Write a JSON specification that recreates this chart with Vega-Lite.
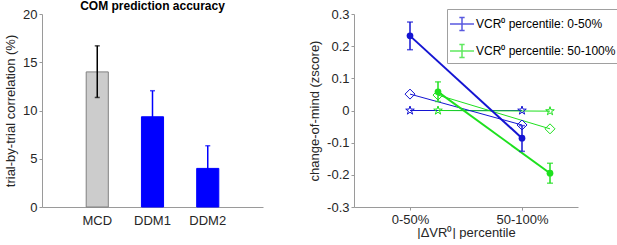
{
  "$schema": "https://vega.github.io/schema/vega-lite/v6.json",
  "padding": {"left": 4, "top": 0, "right": 0, "bottom": 0},
  "spacing": 45,
  "resolve": {"scale": {"color": "independent", "fill": "independent", "stroke": "independent"}, "legend": {"color": "independent"}},
  "config": {
    "font": "Liberation Sans",
    "view": {"stroke": null},
    "axis": {
      "domainColor": "#9a9a9a", "tickColor": "#9a9a9a", "labelColor": "#262626", "titleColor": "#262626",
      "labelFontSize": 13, "titleFontSize": 13, "titleFontWeight": "normal", "grid": false,
      "labelFont": "Liberation Sans", "titleFont": "Liberation Sans", "tickSize": 3, "labelOverlap": false
    }
  },
  "datasets": {
    "bars": [
      {"model": "MCD", "value": 14.0, "lo": 11.35, "hi": 16.7},
      {"model": "DDM1", "value": 9.35, "lo": 6.7, "hi": 12.05},
      {"model": "DDM2", "value": 4.0, "lo": 1.65, "hi": 6.35}
    ],
    "com": [
      {"g": "0-50%", "x": 1, "kind": "data", "y": 0.232, "lo": 0.189, "hi": 0.275},
      {"g": "0-50%", "x": 2, "kind": "data", "y": -0.086, "lo": -0.127, "hi": -0.047},
      {"g": "50-100%", "x": 1.25, "kind": "data", "y": 0.058, "lo": 0.028, "hi": 0.089},
      {"g": "50-100%", "x": 2.25, "kind": "data", "y": -0.195, "lo": -0.226, "hi": -0.164},
      {"g": "0-50%", "x": 1, "kind": "diamond", "y": 0.051},
      {"g": "0-50%", "x": 2, "kind": "diamond", "y": -0.045},
      {"g": "50-100%", "x": 1.25, "kind": "diamond", "y": 0.048},
      {"g": "50-100%", "x": 2.25, "kind": "diamond", "y": -0.057},
      {"g": "0-50%", "x": 1, "kind": "star", "y": 0.0},
      {"g": "0-50%", "x": 2, "kind": "star", "y": 0.0},
      {"g": "50-100%", "x": 1.25, "kind": "star", "y": 0.0},
      {"g": "50-100%", "x": 2.25, "kind": "star", "y": -0.002}
    ]
  },
  "hconcat": [
    {
      "width": 221, "height": 193,
      "title": {"text": "COM prediction accuracy", "fontSize": 12, "fontWeight": "bold", "offset": -5, "color": "#000000"},
      "data": {"name": "bars"},
      "encoding": {
        "x": {"field": "model", "type": "nominal", "sort": null,
              "scale": {"paddingInner": 0.6, "paddingOuter": 0.8},
              "axis": {"title": null, "labelAngle": 0, "ticks": false, "labelPadding": 7}}
      },
      "layer": [
        {
          "mark": {"type": "bar", "strokeWidth": 1},
          "encoding": {
            "y": {"field": "value", "type": "quantitative", "scale": {"domain": [0, 20]},
                  "axis": {"title": "trial-by-trial correlation (%)", "values": [0, 5, 10, 15, 20], "titlePadding": 5}},
            "fill": {"field": "model", "type": "nominal", "scale": {"domain": ["MCD", "DDM1", "DDM2"], "range": ["#cccccc", "#0000ff", "#0000ff"]}, "legend": null},
            "stroke": {"field": "model", "type": "nominal", "scale": {"domain": ["MCD", "DDM1", "DDM2"], "range": ["#808080", "#0000ff", "#0000ff"]}, "legend": null}
          }
        },
        {
          "mark": {"type": "rule", "strokeWidth": 1.5},
          "encoding": {
            "y": {"field": "lo", "type": "quantitative"},
            "y2": {"field": "hi"},
            "color": {"field": "model", "type": "nominal", "scale": {"domain": ["MCD", "DDM1", "DDM2"], "range": ["#000000", "#0000ff", "#0000ff"]}, "legend": null}
          }
        },
        {
          "mark": {"type": "tick", "size": 5, "thickness": 1.5, "orient": "horizontal"},
          "encoding": {
            "y": {"field": "hi", "type": "quantitative"},
            "color": {"field": "model", "type": "nominal", "legend": null}
          }
        },
        {
          "mark": {"type": "tick", "size": 5, "thickness": 1.5, "orient": "horizontal"},
          "encoding": {
            "y": {"field": "lo", "type": "quantitative"},
            "color": {"field": "model", "type": "nominal", "legend": null}
          }
        }
      ]
    },
    {
      "width": 224, "height": 193,
      "data": {"name": "com"},
      "encoding": {
        "x": {"field": "x", "type": "quantitative", "scale": {"domain": [0.5, 2.5], "nice": false},
              "axis": {"title": "|ΔVR⁰| percentile", "values": [1, 2], "labelExpr": "datum.value == 1 ? '0-50%' : '50-100%'", "titlePadding": 0, "labelPadding": 3}},
        "y": {"field": "y", "type": "quantitative", "scale": {"domain": [-0.3, 0.3], "nice": false},
              "axis": {"title": "change-of-mind (zscore)", "values": [-0.3, -0.2, -0.1, 0, 0.1, 0.2, 0.3],
                       "labelOverlap": false, "labelBound": false,
                       "labelExpr": "datum.value == 0 ? '0' : (datum.value < 0 ? '-' : '') + format(abs(datum.value), '.1f')",
                       "titlePadding": 5}},
        "color": {"field": "g", "type": "nominal",
                  "scale": {"domain": ["0-50%", "50-100%"], "range": ["#1414d2", "#1ee01e"]},
                  "legend": {"title": null, "orient": "none", "legendX": 93, "legendY": -5,
                             "symbolType": "M-1,0H1M0,-0.55V0.55M-0.22,-0.55H0.22M-0.22,0.55H0.22",
                             "symbolSize": 576, "symbolStrokeWidth": 1.5,
                             "labelFontSize": 12, "labelColor": "#000000",
                             "strokeColor": "#a0a0a0", "fillColor": "white",
                             "padding": 2, "rowPadding": 4, "labelOffset": 1,
                             "labelExpr": "'VCR⁰ percentile: ' + datum.label"}}
      },
      "layer": [
        {
          "transform": [{"filter": "datum.kind == 'star'"}],
          "mark": {"type": "line", "strokeWidth": 1}
        },
        {
          "transform": [{"filter": "datum.kind == 'diamond'"}],
          "mark": {"type": "line", "strokeWidth": 1}
        },
        {
          "transform": [{"filter": "datum.kind == 'data'"}],
          "mark": {"type": "line", "strokeWidth": 2}
        },
        {
          "transform": [{"filter": "datum.kind == 'data'"}],
          "mark": {"type": "rule", "strokeWidth": 1.5},
          "encoding": {"y": {"field": "lo", "type": "quantitative"}, "y2": {"field": "hi"}}
        },
        {
          "transform": [{"filter": "datum.kind == 'data'"}],
          "mark": {"type": "tick", "size": 6, "thickness": 1.5, "orient": "horizontal"},
          "encoding": {"y": {"field": "lo", "type": "quantitative"}}
        },
        {
          "transform": [{"filter": "datum.kind == 'data'"}],
          "mark": {"type": "tick", "size": 6, "thickness": 1.5, "orient": "horizontal"},
          "encoding": {"y": {"field": "hi", "type": "quantitative"}}
        },
        {
          "transform": [{"filter": "datum.kind == 'data'"}],
          "mark": {"type": "point", "shape": "circle", "filled": true, "size": 45, "opacity": 1}
        },
        {
          "transform": [{"filter": "datum.kind == 'diamond'"}],
          "mark": {"type": "point", "shape": "diamond", "filled": false, "size": 100, "strokeWidth": 1, "opacity": 1}
        },
        {
          "transform": [{"filter": "datum.kind == 'star'"}],
          "mark": {"type": "point", "shape": "M0,-1L0.2245,-0.309L0.951,-0.309L0.363,0.118L0.588,0.809L0,0.382L-0.588,0.809L-0.363,0.118L-0.951,-0.309L-0.2245,-0.309Z", "filled": false, "size": 81, "strokeWidth": 1, "opacity": 1}
        }
      ]
    }
  ]
}
